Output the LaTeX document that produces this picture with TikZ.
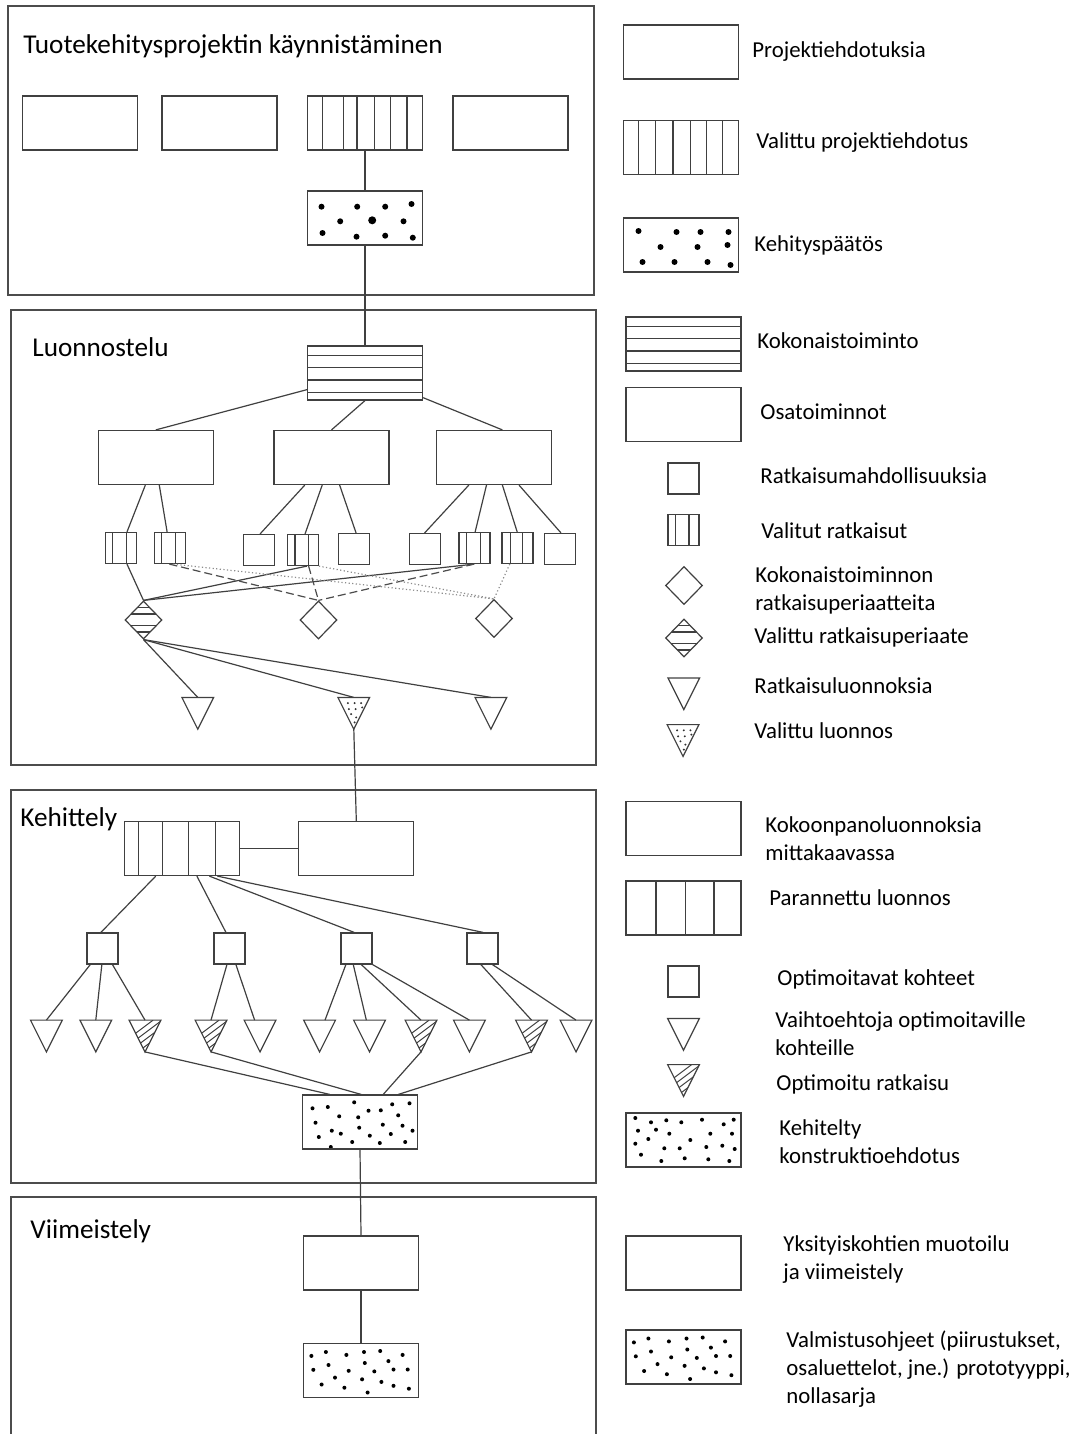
\documentclass[tikz,border=0pt]{standalone}
\usepackage{fontspec}
\setmainfont{Carlito}
\usetikzlibrary{calc,shapes.geometric}

\tikzset{
  ln/.style={draw=black!75, line width=0.6pt},
  frame/.style={draw=black!70, line width=0.65pt},
  box/.style={rectangle, ln, inner sep=0pt, minimum width=57.5pt, minimum height=27pt},
  sq/.style={rectangle, ln, inner sep=0pt, minimum width=15.5pt, minimum height=15.5pt},
  dia/.style={diamond, ln, inner sep=0pt, minimum width=18.5pt, minimum height=19pt},
  tri/.style={rectangle, inner sep=0pt, minimum width=15.5pt, minimum height=15.5pt},
  vstripes/.style={path picture={
    \foreach \f in {#1}
      \draw[ln] ($(path picture bounding box.north west)!\f!(path picture bounding box.north east)$)
             -- ($(path picture bounding box.south west)!\f!(path picture bounding box.south east)$);}},
  hstripes/.style={path picture={
    \foreach \f in {#1}
      \draw[ln] ($(path picture bounding box.north west)!\f!(path picture bounding box.south west)$)
             -- ($(path picture bounding box.north east)!\f!(path picture bounding box.south east)$);}},
  dots/.style={path picture={
    \foreach \x/\y/\r in {#1}
      \fill[black] ([shift={(\x,\y)}]path picture bounding box.north west) circle[radius=\r pt];}},
  dashln/.style={draw=black!70, line width=0.6pt, dash pattern=on 4pt off 2pt},
  dotln/.style={draw=black!45, line width=0.6pt, dash pattern=on 0.6pt off 1.2pt},
  ttl/.style={anchor=base west, inner sep=0pt, font=\fontsize{13.6}{16}\selectfont},
  lbl/.style={anchor=west, inner sep=0pt, align=left, font=\fontsize{11.4}{14}\selectfont},
  bigA/.style={dots={14/15.7/1.5, 49.7/15.7/1.5, 77.7/15.7/1.5, 104/13/1.5, 32.7/30.3/1.5,
    64.7/29.3/2, 96/30.3/1.5, 15/42/1.5, 49/45.7/1.5, 77.7/44.7/1.5, 105.3/46.7/1.5}},
  bigB/.style={dots={15/13/1.5, 53/14/1.5, 77/14/1.5, 105/14/1.5, 37/29/1.5, 74/29/1.5,
    104/27/1.5, 19/44/1.5, 51/44/1.5, 84/44/1.5, 107/47/1.5}},
  smallA/.style={dots={10/13.3/1, 25.3/12/1, 51.7/7.3/1, 66/15.7/1, 78.3/15.3/1,
    89.7/9.3/1, 107/8.3/1, 36.7/21.3/1, 55.7/22.3/1, 95.7/20.3/1, 13/27.7/1,
    80.3/29.7/1, 100/30.7/1, 56.7/32.7/1, 29.3/35.7/1, 38.3/38.7/1, 110/35.7/1,
    16.3/42/1, 67.3/40.7/1, 88.3/39/1, 49.7/47/1, 77.3/48/1, 102.7/47/1, 28.3/52/1}},
  smallB/.style={dots={9.3/5/1, 25/9.3/1, 40.3/7.3/1, 55.3/9.3/1, 76/6.7/1,
    97.7/11.3/1, 107.7/6.7/1, 12/17.7/1, 30/16.7/1, 43.3/20.7/1, 84.3/20.7/1,
    106/20.7/1, 9.3/30.7/1, 22.3/26/1, 64.3/27/1, 38.3/35.3/1, 53.7/35.3/1,
    80.3/34/1, 96.3/32.7/1, 108.7/36/1, 15/41.7/1, 58.7/45.3/1, 35.3/48/1,
    82.3/46.3/1, 103.3/48/1}},
  smallC/.style={dots={7.9/12.4/1, 22.4/8.5/1, 42.9/11.4/1, 60.5/8.5/1, 76.7/7.5/1,
    99.1/11.4/1, 25/21.5/1, 61.3/19.5/1, 84.9/17.6/1, 9.8/26.3/1, 45.2/27.3/1,
    70.8/27.9/1, 90/26/1, 104.2/26/1, 31.5/34.1/1, 58.6/35.8/1, 77.9/38.4/1,
    18.1/41/1, 40.9/44.2/1, 90/42.3/1, 105.4/45.2/1, 64.1/49/1}},
}

\begin{document}
\begin{tikzpicture}[x=0.5pt,y=-0.5pt]
\useasboundingbox (0,0) rectangle (1085,1434);

% phase frames
\draw[frame] (8,6) rectangle (594,295);
\draw[frame] (11,310) rectangle (596,765);
\draw[frame] (11,790) rectangle (596,1183);
\draw[frame] (11,1440) -- (11,1197) -- (596,1197) -- (596,1440);

\node[ttl] (h1) at (23,54) {Tuotekehitysprojektin käynnistäminen};
\node[ttl] (h2) at (32,356) {Luonnostelu};
\node[ttl] (h3) at (20,826) {Kehittely};
\node[ttl] (h4) at (30,1238) {Viimeistely};

% project start
\node[box] (p1) at (80,123) {};
\node[box] (p2) at (219.5,123) {};
\node[box, vstripes={0.13,0.31,0.43,0.585,0.725,0.865}] (p3) at (365,123) {};
\node[box] (p4) at (510.5,123) {};
\node[box, bigA] (dk) at (365,218) {};

% conceptual design
\node[box, hstripes={0.17,0.4,0.63,0.86}] (hb) at (365,373) {};
\node[box] (fa) at (155.8,457.5) {};
\node[box] (fb) at (331.5,457.5) {};
\node[box] (fc) at (493.8,457.5) {};

\node[sq, vstripes={0.23,0.68}] (s1) at (121.2,548) {};
\node[sq, vstripes={0.23,0.68}] (s2) at (170,548) {};
\node[sq] (s3) at (258.8,550) {};
\node[sq, vstripes={0.25,0.68}] (s4) at (302.8,550) {};
\node[sq] (s5) at (353.8,549) {};
\node[sq] (s6) at (425.3,549) {};
\node[sq, vstripes={0.25,0.69}] (s7) at (474.5,548) {};
\node[sq, vstripes={0.27,0.67}] (s8) at (517.5,548) {};
\node[sq] (s9) at (560,549) {};

\node[dia, hstripes={0.17,0.34,0.655,0.82}] (d1) at (143.5,620) {};
\node[dia] (d2) at (318.5,620) {};
\node[dia] (d3) at (494,618.5) {};

\node[tri] (t1) at (197.8,713.3) {};
\node[tri] (t2) at (353.8,713.3) {};
\node[tri] (t3) at (490.9,713.3) {};

% embodiment design
\node[box, vstripes={0.125,0.33,0.56,0.79}] (vb) at (181.8,848.5) {};
\node[box] (kr) at (356.3,848.5) {};
\node[sq] (q1) at (102.5,948.5) {};
\node[sq] (q2) at (229.5,948.5) {};
\node[sq] (q3) at (356.5,948.5) {};
\node[sq] (q4) at (482.5,948.5) {};
\node[tri] (k1) at (46.4,1036) {};
\node[tri] (k2) at (95.8,1036) {};
\node[tri] (k3) at (145,1036) {};
\node[tri] (k4) at (211,1036) {};
\node[tri] (k5) at (260,1036) {};
\node[tri] (k6) at (319.6,1036) {};
\node[tri] (k7) at (369.5,1036) {};
\node[tri] (k8) at (421,1036) {};
\node[tri] (k9) at (469.4,1036) {};
\node[tri] (k10) at (531.5,1036) {};
\node[tri] (k11) at (576,1036) {};
\node[box, smallA] (kd) at (360,1122) {};

% detail design
\node[box] (fb2) at (361,1263) {};
\node[box, smallC] (fd) at (361,1370.5) {};

% legend symbols
\node[box] (L1) at (681,52) {};
\node[box, vstripes={0.13,0.28,0.43,0.58,0.72,0.86}] (L2) at (681,147.5) {};
\node[box, bigB] (L3) at (681,245) {};
\node[box, hstripes={0.17,0.4,0.63,0.86}] (L4) at (683.5,344) {};
\node[box] (L5) at (683.5,414.5) {};
\node[sq] (L6) at (683.5,478.5) {};
\node[sq, vstripes={0.25,0.68}] (L7) at (683.5,530) {};
\node[dia] (L8) at (684,585.5) {};
\node[dia, hstripes={0.17,0.34,0.655,0.82}] (L9) at (684,638) {};
\node[tri] (L10) at (683.8,693.8) {};
\node[tri] (L11) at (683,740.5) {};
\node[box] (L12) at (683.5,828.5) {};
\node[box, vstripes={0.26,0.52,0.765}] (L13) at (683.5,908) {};
\node[sq] (L14) at (683.5,981.5) {};
\node[tri] (L15) at (683.5,1034.3) {};
\node[tri] (L16) at (683.5,1080.5) {};
\node[box, smallB] (L17) at (683.5,1140) {};
\node[box] (L18) at (683.5,1263) {};
\node[box, smallC] (L19) at (683.5,1357) {};

% triangle outlines
\foreach \t in {t1,t2,t3,k1,k2,k3,k4,k5,k6,k7,k8,k9,k10,k11,L10,L11,L15,L16}
  \draw[ln, line join=miter] (\t.north west) -- (\t.north east) -- (\t.south) -- cycle;
% hatched triangles
\foreach \t in {k3,k4,k8,k10,L16} {
  \begin{scope}
    \clip (\t.north west) -- (\t.north east) -- (\t.south) -- cycle;
    \foreach \k in {-16,-7,2,11}
      \draw[ln, line width=0.5pt] ([shift={(\k,30)}]\t.north west) -- ++(40,-30);
  \end{scope}}
% dotted triangles
\foreach \t in {t2,L11} {
  \begin{scope}
    \clip (\t.north west) -- (\t.north east) -- (\t.south) -- cycle;
    \foreach \x/\y in {10/5.7,16.7/5.7,23.3/5.7,11/11.7,17.7/11.7,24.3/10,13.3/16.7,18.3/20,16.7/25}
      \fill[black!80] ([shift={(\x,\y)}]\t.north west) circle[radius=0.55pt];
  \end{scope}}

% connectors: project start
\draw[ln] (p3.south) -- (dk.north);
\draw[ln] (dk.south) -- (hb.north);

% connectors: conceptual design
\draw[ln] (hb.196.6) -- (fa.north);
\draw[ln] (hb.south) -- (fb.north);
\draw[ln] (hb.337.2) -- ($(fc.north west)!0.574!(fc.north east)$);

\draw[ln] ($(fa.south west)!0.41!(fa.south east)$) -- ($(s1.north west)!0.68!(s1.north east)$);
\draw[ln] ($(fa.south west)!0.53!(fa.south east)$) -- ($(s2.north west)!0.41!(s2.north east)$);
\draw[ln] ($(fb.south west)!0.27!(fb.south east)$) -- ($(s3.north west)!0.54!(s3.north east)$);
\draw[ln] ($(fb.south west)!0.42!(fb.south east)$) -- ($(s4.north west)!0.57!(s4.north east)$);
\draw[ln] ($(fb.south west)!0.57!(fb.south east)$) -- ($(s5.north west)!0.57!(s5.north east)$);
\draw[ln] ($(fc.south west)!0.285!(fc.south east)$) -- ($(s6.north west)!0.48!(s6.north east)$);
\draw[ln] ($(fc.south west)!0.437!(fc.south east)$) -- ($(s7.north west)!0.52!(s7.north east)$);
\draw[ln] ($(fc.south west)!0.574!(fc.south east)$) -- ($(s8.north west)!0.49!(s8.north east)$);
\draw[ln] ($(fc.south west)!0.717!(fc.south east)$) -- ($(s9.north west)!0.53!(s9.north east)$);

\draw[ln] ($(s1.south west)!0.68!(s1.south east)$) -- (d1.north);
\draw[ln] ($(s4.south west)!0.63!(s4.south east)$) -- (d1.north);
\draw[ln] ($(s7.south west)!0.49!(s7.south east)$) -- (d1.north);
\draw[dashln] ($(s2.south west)!0.48!(s2.south east)$) -- (d2.north);
\draw[dashln] ($(s4.south west)!0.68!(s4.south east)$) -- (d2.north);
\draw[dashln] ($(s7.south west)!0.49!(s7.south east)$) -- (d2.north);
\draw[dotln] ($(s2.south west)!0.6!(s2.south east)$) -- (d3.north);
\draw[dotln] (s4.south east) -- (d3.north);
\draw[dotln] ($(s8.south west)!0.26!(s8.south east)$) -- (d3.north);

\draw[ln] (d1.south) -- (t1.north);
\draw[ln] (d1.south) -- (t2.north);
\draw[ln] (d1.south) -- (t3.north);
\draw[ln] (t2.south) -- (kr.north);

% connectors: embodiment design
\draw[ln] (vb.east) -- (kr.west);
\draw[ln] ($(vb.south west)!0.276!(vb.south east)$) -- ($(q1.north west)!0.45!(q1.north east)$);
\draw[ln] ($(vb.south west)!0.63!(vb.south east)$) -- ($(q2.north west)!0.39!(q2.north east)$);
\draw[ln] ($(vb.south west)!0.737!(vb.south east)$) -- ($(q3.north west)!0.43!(q3.north east)$);
\draw[ln] ($(vb.south west)!0.806!(vb.south east)$) -- ($(q4.north west)!0.52!(q4.north east)$);

\draw[ln] ($(q1.south west)!0.12!(q1.south east)$) -- (k1.north);
\draw[ln] ($(q1.south west)!0.48!(q1.south east)$) -- (k2.north);
\draw[ln] ($(q1.south west)!0.81!(q1.south east)$) -- (k3.north);
\draw[ln] ($(q2.south west)!0.42!(q2.south east)$) -- (k4.north);
\draw[ln] ($(q2.south west)!0.70!(q2.south east)$) -- ($(k5.north west)!0.33!(k5.north east)$);
\draw[ln] ($(q3.south west)!0.17!(q3.south east)$) -- ($(k6.north west)!0.67!(k6.north east)$);
\draw[ln] ($(q3.south west)!0.40!(q3.south east)$) -- ($(k7.north west)!0.4!(k7.north east)$);
\draw[ln] ($(q3.south west)!0.65!(q3.south east)$) -- (k8.north);
\draw[ln] (q3.south east) -- (k9.north);
\draw[ln] ($(q4.south west)!0.45!(q4.south east)$) -- (k10.north);
\draw[ln] ($(q4.south west)!0.81!(q4.south east)$) -- (k11.north);

\draw[ln] (k3.south) -- ($(kd.north west)!0.24!(kd.north east)$);
\draw[ln] (k4.south) -- ($(kd.north west)!0.51!(kd.north east)$);
\draw[ln] (k8.south) -- ($(kd.north west)!0.70!(kd.north east)$);
\draw[ln] (k10.south) -- ($(kd.north west)!0.83!(kd.north east)$);

% connectors: detail design
\draw[ln] (kd.south) -- (fb2.north);
\draw[ln] (fb2.south) -- (fd.north);

% legend texts
\node[lbl] (x1) at (752,52) {Projektiehdotuksia};
\node[lbl] (x2) at (756,143) {Valittu projektiehdotus};
\node[lbl] (x3) at (754,245) {Kehityspäätös};
\node[lbl] (x4) at (757,341) {Kokonaistoiminto};
\node[lbl] (x5) at (760,412) {Osatoiminnot};
\node[lbl] (x6) at (760,476) {Ratkaisumahdollisuuksia};
\node[lbl] (x7) at (761,531) {Valitut ratkaisut};
\node[lbl] (x8) at (755,590) {Kokonaistoiminnon\\ratkaisuperiaatteita};
\node[lbl] (x9) at (754,637) {Valittu ratkaisuperiaate};
\node[lbl] (x10) at (754,686) {Ratkaisuluonnoksia};
\node[lbl] (x11) at (754,731) {Valittu luonnos};
\node[lbl] (x12) at (765,839) {Kokoonpanoluonnoksia\\mittakaavassa};
\node[lbl] (x13) at (769,898) {Parannettu luonnos};
\node[lbl] (x14) at (777,979) {Optimoitavat kohteet};
\node[lbl] (x15) at (775,1034) {Vaihtoehtoja optimoitaville\\kohteille};
\node[lbl] (x16) at (776,1084) {Optimoitu ratkaisu};
\node[lbl] (x17) at (779,1142) {Kehitelty\\konstruktioehdotus};
\node[lbl] (x18) at (783,1260) {Yksityiskohtien muotoilu\\ja viimeistely};
\node[lbl] (x19) at (786,1369) {Valmistusohjeet (piirustukset,\\osaluettelot, jne.) prototyyppi,\\nollasarja};
\end{tikzpicture}
\end{document}
